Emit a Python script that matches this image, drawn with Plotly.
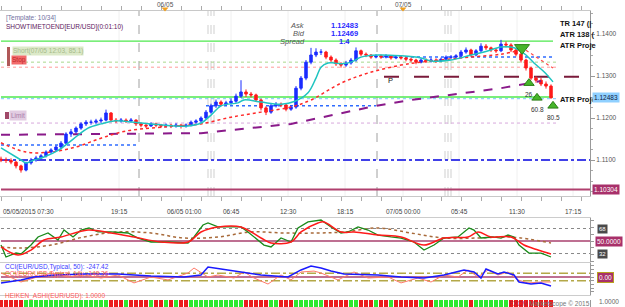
import plotly.graph_objects as go

W, H = 625, 307

# ---------------- data ----------------
# 30-minute bars, hours since 05/05/2015 07:30
closes = [1.1100,1.1099,1.1095,1.1086,1.1076,1.1093,1.1100,1.1105,1.1110,1.1119,
          1.1124,1.1131,1.1140,1.1162,1.1167,1.1176,1.1186,1.1190,1.1190,1.1193,
          1.1195,1.1212,1.1195,1.1193,1.1195,1.1193,1.1195,1.1186,1.1183,1.1181,
          1.1186,1.1183,1.1181,1.1183,1.1181,1.1183,1.1181,1.1183,1.1190,1.1193,
          1.1200,1.1214,1.1229,1.1238,1.1233,1.1236,1.1240,1.1252,1.1262,1.1257,
          1.1255,1.1243,1.1224,1.1214,1.1229,1.1233,1.1231,1.1221,1.1226,1.1271,
          1.1295,1.1333,1.1350,1.1357,1.1357,1.1345,1.1338,1.1329,1.1326,1.1331,
          1.1338,1.1360,1.1352,1.1350,1.1345,1.1348,1.1345,1.1348,1.1343,1.1345,
          1.1343,1.1340,1.1338,1.1333,1.1338,1.1336,1.1338,1.1336,1.1340,1.1345,
          1.1345,1.1348,1.1357,1.1362,1.1350,1.1360,1.1371,1.1367,1.1362,1.1360,
          1.1376,1.1374,1.1362,1.1352,1.1338,1.1319,1.1295,1.1290,1.1281,1.1276,
          1.12483]
highs = [1.1108,1.1106,1.1104,1.1098,1.1089,1.1096,1.1105,1.1110,1.1114,1.1123,
         1.1128,1.1135,1.1145,1.1166,1.1174,1.1180,1.1190,1.1195,1.1196,1.1198,
         1.1201,1.1220,1.1214,1.1200,1.1200,1.1199,1.1200,1.1197,1.1189,1.1187,
         1.1190,1.1189,1.1186,1.1187,1.1186,1.1188,1.1186,1.1187,1.1194,1.1197,
         1.1204,1.1219,1.1234,1.1244,1.1242,1.1241,1.1246,1.1258,1.1290,1.1268,
         1.1262,1.1258,1.1246,1.1228,1.1234,1.1238,1.1237,1.1234,1.1231,1.1276,
         1.1300,1.1338,1.1367,1.1366,1.1364,1.1360,1.1349,1.1342,1.1333,1.1336,
         1.1343,1.1368,1.1363,1.1356,1.1352,1.1352,1.1351,1.1352,1.1350,1.1349,
         1.1348,1.1346,1.1344,1.1341,1.1342,1.1342,1.1343,1.1342,1.1344,1.1349,
         1.1350,1.1352,1.1362,1.1368,1.1365,1.1364,1.1378,1.1376,1.1370,1.1366,
         1.1386,1.1382,1.1378,1.1366,1.1355,1.1341,1.1322,1.1300,1.1296,1.1287,
         1.1280]
lows = [1.1095,1.1093,1.1090,1.1080,1.1070,1.1073,1.1089,1.1096,1.1101,1.1106,
        1.1115,1.1120,1.1128,1.1138,1.1155,1.1160,1.1172,1.1181,1.1184,1.1185,
        1.1188,1.1192,1.1190,1.1188,1.1189,1.1188,1.1189,1.1181,1.1178,1.1176,
        1.1179,1.1178,1.1176,1.1177,1.1176,1.1177,1.1175,1.1177,1.1180,1.1186,
        1.1189,1.1196,1.1210,1.1224,1.1228,1.1229,1.1232,1.1236,1.1248,1.1250,
        1.1249,1.1238,1.1218,1.1207,1.1210,1.1225,1.1226,1.1216,1.1217,1.1222,
        1.1266,1.1290,1.1328,1.1345,1.1350,1.1340,1.1333,1.1324,1.1320,1.1322,
        1.1327,1.1334,1.1347,1.1345,1.1341,1.1342,1.1341,1.1342,1.1339,1.1340,
        1.1339,1.1335,1.1333,1.1328,1.1330,1.1331,1.1332,1.1331,1.1333,1.1337,
        1.1340,1.1341,1.1345,1.1353,1.1345,1.1347,1.1356,1.1362,1.1357,1.1355,
        1.1357,1.1368,1.1357,1.1347,1.1332,1.1313,1.1290,1.1284,1.1276,1.1270,
        1.1246]
first_open = 1.1102
opens = [first_open] + closes[:-1]
bar_h = [0.5 * i for i in range(len(closes))]

# moving averages (hours, price)
cyan_h = [0,2.0,2.5,3.3,4.3,5.8,6.7,7.7,8.7,10.0,11.3,13.3,15.0,17.3,18.7,20.0,21.0,22.0,23.7,24.3,
          26.0,28.0,29.4,30.7,31.5,32.0,32.7,33.3,34.0,35.0,36.0,37.7,40.0,42.0,43.0,45.0,47.0,48.3,
          50.0,51.0,51.8,52.5,53.3,54.3,55.2]
cyan_p = [1.1129,1.1100,1.1093,1.1100,1.1107,1.1124,1.1140,1.1159,1.1176,1.1186,1.1193,1.1190,1.1186,
          1.1181,1.1181,1.1188,1.1207,1.1229,1.1236,1.1243,1.1238,1.1233,1.1240,1.1260,1.1295,1.1321,
          1.1331,1.1331,1.1329,1.1333,1.1345,1.1350,1.1348,1.1343,1.1336,1.1338,1.1350,1.1357,1.1369,
          1.1369,1.1362,1.1350,1.1331,1.1310,1.1286]
red_h = [0,2.5,5.0,7.5,10.0,12.5,15.0,17.5,20.0,23.0,26.0,29.0,31.0,34.0,36.7,40.0,42.0,46.0,50.0,52.0]
red_p = [1.1141,1.1119,1.1119,1.1131,1.1152,1.1169,1.1176,1.1181,1.1186,1.1202,1.1214,1.1226,1.1243,
         1.1283,1.1307,1.1326,1.1333,1.1343,1.1352,1.1362]
proj_h = [52.0, 55.2]
proj_p = [1.1369, 1.1319]
purple_h = [0,10,20,29,37.5,41,45,50,54]
purple_p = [1.1160,1.1162,1.1164,1.1186,1.1229,1.1243,1.1255,1.1271,1.1288]

# signals
sig_dn_h = [52.1]
sig_dn_p = [1.1367]
sig_up_h = [52.8, 53.6, 55.2]
sig_up_p = [1.1283, 1.1248, 1.1229]
sig_up_txt = ["26", "60.8", "80.5"]

# oscillator
stk_h = [0,0.5,1.5,2.0,3.0,3.7,4.7,5.7,6.3,7.2,8.0,8.8,9.7,11.0,12.7,13.7,15.0,16.7,18.7,19.3,
         20.2,20.7,21.7,23.0,24.0,24.7,25.3,26.3,27.0,28.0,29.0,29.7,30.7,31.7,32.0,33.0,34.0,34.7,
         35.7,36.7,37.7,39.0,40.0,41.3,42.3,43.3,44.3,45.7,46.8,47.3,48.0,49.2,50.0,50.7,51.3,51.8,
         52.8,54.0,55.0]
stk_v = [44.2,27.0,32.7,31.3,44.2,55.8,61.5,51.4,65.8,55.8,65.8,68.7,63.0,63.0,61.5,54.3,48.6,48.6,
         47.1,55.8,73.0,75.9,70.2,70.2,70.2,63.0,55.8,44.2,41.4,54.3,48.6,68.7,77.4,80.2,80.2,70.2,
         61.5,63.0,70.2,65.8,58.6,55.8,54.3,48.6,37.0,44.2,54.3,55.8,68.7,65.8,54.3,55.8,54.3,58.6,
         55.8,44.2,32.7,32.7,27.0]
std_h = [0,1.7,3.0,4.3,6.0,8.7,11.0,13.3,16.0,18.7,20.0,21.7,24.0,26.0,27.0,29.0,30.0,31.7,32.3,
         34.0,35.3,37.7,40.0,42.3,44.3,46.7,47.7,49.0,51.0,52.3,53.7,55.0]
std_v = [41.4,29.8,37.0,51.4,55.8,65.8,61.5,55.8,48.6,48.6,63.0,70.2,70.2,54.3,47.1,48.6,63.0,75.9,
         77.4,63.0,63.0,58.6,55.8,44.2,54.3,55.8,63.0,55.8,55.8,44.2,37.0,31.3]
slow_h = [0,2.0,5.0,8.3,11.7,15.0,18.3,21.7,25.0,28.3,31.7,34.3,37.7,41.0,44.3,47.7,51.0,55.0]
slow_v = [41.4,39.9,44.2,55.8,63.0,61.5,54.3,55.8,63.0,61.5,61.5,63.0,68.7,61.5,54.3,54.3,55.8,47.1]

# CCI
cci50_h = [0,2.0,3.3,5.0,8.3,11.7,15.0,18.3,20.0,20.7,22.0,24.0,26.0,28.7,30.0,31.0,32.0,33.0,34.3,
           37.7,40.0,42.3,44.3,46.3,47.3,48.0,48.5,49.7,50.3,51.3,51.8,53.0,54.0,55.0]
cci50_v = [-160,-80,0,50,80,80,27,0,54,270,216,135,54,0,190,297,243,160,80,54,0,-27,54,190,135,-27,
           216,80,135,54,-135,-190,-160,-243]
cci14_h = [0,2.0,3.3,5.0,6.7,8.3,10.0,11.7,13.3,15.0,16.7,18.7,19.3,20.7,21.7,23.3,24.3,25.3,26.7,
           28.0,29.0,30.0,31.3,32.0,33.7,35.3,36.7,38.7,40.0,41.7,43.0,44.3,45.7,46.7,47.7,48.7,49.7,
           50.7,51.7,52.7,54.0,55.0]
cci14_v = [108,-135,-27,108,0,54,-27,54,-160,0,-80,108,243,0,54,-27,135,-27,-190,54,-80,135,160,108,
           -80,135,-27,0,-160,-27,-135,54,0,190,0,190,54,135,-80,-160,-135,-135]

# Heiken Ashi direction per bar (G up / R down)
ha_dir = "".join(["RRRRR", "GGGGGGGGGGGGGGGG", "GR", "RRGRRRRGRRGRGRR", "GGGGGGGGGGG", "RRRRR",
                  "GGRRR", "GGGGGG", "RRRRR", "GGR", "RRGRRGRRRRRGRRG", "GGGGGGRGGGGGGG", "RRRRRRRRR"])

price_ticks = [1.11, 1.12, 1.13, 1.14]
price_ticktext = ["1.1100", "1.1200", "1.1300", "1.1400"]
time_labels = ["05/05/2015 07:30", "19:15", "06/05 01:00", "06:45", "12:30", "18:15",
               "07/05 00:00", "05:45", "11:30", "17:15"]
time_hours = [0, 11.8, 18.3, 23.0, 28.7, 34.4, 40.2, 45.8, 51.6, 57.2]
day_labels = ["06/05", "07/05"]
day_hours = [16.4, 40.2]

last_price = 1.12483
low_mark = 1.10304

# ---------------- layout helpers ----------------
def px(x):
    return x / W

def py(y):
    return 1 - y / H

FONT = "Liberation Sans"
XR = [-0.1, 58.9]
annotations = []
shapes = []

def ann(x, y, text, size=7, color="#333", xanchor="left", xref="paper", yref="paper", **kw):
    d = dict(x=x if xref != "paper" else px(x), y=y if yref != "paper" else py(y),
             xref=xref, yref=yref, text=text, showarrow=False, xanchor=xanchor,
             yanchor="middle", font=dict(size=size, color=color, family=FONT))
    d.update(kw)
    annotations.append(d)

def hline(p, h0, h1, color, dash="solid", width=1, yref="y", xref="x"):
    shapes.append(dict(type="line", xref=xref, yref=yref, x0=h0, x1=h1, y0=p, y1=p,
                       line=dict(color=color, dash=dash, width=width), layer="below"))

fig = go.Figure()

# ---------------- main panel ----------------
fig.add_trace(go.Candlestick(
    x=bar_h, open=opens, high=highs, low=lows, close=closes, xaxis="x", yaxis="y",
    increasing=dict(line=dict(color="#1a2cff", width=1), fillcolor="#1a2cff"),
    decreasing=dict(line=dict(color="#ff1a1a", width=1), fillcolor="#ff1a1a"),
    whiskerwidth=0, showlegend=False, hoverinfo="skip"))
fig.add_trace(go.Scatter(x=purple_h, y=purple_p, mode="lines", xaxis="x", yaxis="y",
                         line=dict(color="#8a1a8a", width=2, dash="dash"), showlegend=False))
fig.add_trace(go.Scatter(x=red_h, y=red_p, mode="lines", xaxis="x", yaxis="y",
                         line=dict(color="#ff2a2a", width=1.5, dash="dot", shape="spline"), showlegend=False))
fig.add_trace(go.Scatter(x=proj_h, y=proj_p, mode="lines", xaxis="x", yaxis="y",
                         line=dict(color="#ff4a4a", width=1.2, dash="dot"), showlegend=False))
fig.add_trace(go.Scatter(x=cyan_h, y=cyan_p, mode="lines", xaxis="x", yaxis="y",
                         line=dict(color="#1fc4c0", width=1.5, shape="spline"), showlegend=False))
fig.add_trace(go.Scatter(x=sig_dn_h, y=sig_dn_p, mode="markers", xaxis="x", yaxis="y",
                         marker=dict(symbol="triangle-down", size=13, color="#46b52a",
                                     line=dict(color="#2c7f16", width=1)), showlegend=False))
fig.add_trace(go.Scatter(x=sig_up_h, y=sig_up_p, mode="markers", xaxis="x", yaxis="y",
                         marker=dict(symbol="triangle-up", size=9, color="#46b52a",
                                     line=dict(color="#2c7f16", width=1)), showlegend=False))
for hv, pv, tv in zip(sig_up_h, sig_up_p, sig_up_txt):
    annotations.append(dict(x=hv, y=pv, xref="x", yref="y", text=tv, showarrow=False,
                            xanchor="center", yanchor="top", yshift=-6,
                            font=dict(size=6.5, color="#333", family=FONT)))

# level lines
hline(1.1383, 0, 55.2, "#4ee84e", width=1.3)
hline(1.1250, 0, 55.2, "#4ee84e", width=1.3)
hline(1.1333, 0, 55.7, "#a8d88c", dash="dot", width=1)
hline(1.1321, 0, 55.7, "#ff9a9a", dash="dot", width=1)
hline(1.1246, 0, 55.7, "#7cc4ff", dash="dot", width=1)
hline(1.1136, 0, 13.5, "#2f6cff", dash="dot", width=1.5)
hline(1.1229, 20.5, 37.5, "#2f6cff", dash="dot", width=1.5)
hline(1.1345, 38.0, 55.2, "#2f6cff", dash="dot", width=1.5)
hline(1.1100, 0, XR[1], "#4040e8", dash="dashdot", width=2)
hline(1.1188, 0, 55.5, "#d8a8dc", dash="dot", width=1)
hline(1.1030, 0, XR[1], "#b0406e", width=2)
hline(1.1298, 38.3, XR[1], "#7a1a3a", dash="longdash", width=2)

# vertical markers
for hv in [13.8, 37.6]:
    shapes.append(dict(type="line", xref="x", yref="paper", x0=hv, x1=hv, y0=py(196), y1=py(11),
                       line=dict(color="#a0a0a0", dash="dash", width=1), layer="below"))
for hv in [20.7, 21.0, 21.3, 44.4, 44.7, 45.0]:
    shapes.append(dict(type="line", xref="x", yref="paper", x0=hv, x1=hv, y0=py(196), y1=py(11),
                       line=dict(color="#cfcfcf", dash="dash", width=1), layer="below"))
for hv in time_hours[1:]:
    shapes.append(dict(type="line", xref="x", yref="paper", x0=hv, x1=hv, y0=py(196), y1=py(11),
                       line=dict(color="#f0f0f0", width=1), layer="below"))

# order boxes
shapes.append(dict(type="rect", xref="paper", yref="paper", x0=px(7), x1=px(10), y0=py(66), y1=py(47),
                   fillcolor="#b05858", line=dict(width=0)))
shapes.append(dict(type="rect", xref="paper", yref="paper", x0=px(5), x1=px(9), y0=py(119), y1=py(112),
                   fillcolor="#a04868", line=dict(width=0)))
ann(12, 51.5, "Short(07/05 12:03, 85.1)", 6.5, "#a6ba8a", bgcolor="#dce9c8", borderpad=0)
ann(11, 60.5, "Stop", 6.5, "#c02828", bgcolor="#f26a6a", borderpad=0)
ann(9, 115.5, "Limit", 6.5, "#a87ca8", bgcolor="#e2cce2", borderpad=1)

# header texts
ann(4, 18, "[Template: 10/34]", 6.5, "#7070a0")
ann(4, 26.5, "SHOWTIMETOEND[EUR/USD](0:01:10)", 6.5, "#602060")
ann(307, 25, "<i>Ask</i>", 7.5, "#555", "right")
ann(307, 33, "<i>Bid</i>", 7.5, "#555", "right")
ann(307, 41, "<i>Spread</i>", 7.5, "#555", "right")
ann(344, 25, "<b>1.12483</b>", 7.5, "#2a2aff", "center")
ann(344, 33, "<b>1.12469</b>", 7.5, "#2a2aff", "center")
ann(344, 41, "<b>1.4</b>", 7.5, "#2a2aff", "center")
ann(558, 23, "<b>TR 147 (|</b>", 7.5, "#111")
ann(558, 34, "<b>ATR 138 (</b>", 7.5, "#111")
ann(558, 45, "<b>ATR Proje</b>", 7.5, "#111")
ann(558, 100, "<b>ATR Proje</b>", 7.5, "#111")
ann(38.5, 1.1290, "P", 7.5, "#111", xref="x", yref="y")

# day markers on top
for lbl, hv in zip(day_labels, day_hours):
    ann(hv, 4, lbl, 6.5, "#555", "center", xref="x")
    shapes.append(dict(type="path", xref="x", yref="paper",
                       path=f"M {hv - 0.35} {py(7.5)} L {hv + 0.35} {py(7.5)} L {hv} {py(11.5)} Z",
                       fillcolor="#f0a020", line=dict(width=0)))

# price boxes on right
ann(592, last_price, "1.12483", 6.5, "#102040", yref="y", bgcolor="#8fd0ff", borderpad=1)
ann(592, low_mark, "1.10304", 6.5, "#ffffff", yref="y", bgcolor="#a8306a", borderpad=1)

# time labels
for i, (lbl, hv) in enumerate(zip(time_labels, time_hours)):
    ann(hv, 211, lbl, 6.5, "#444", "left" if i == 0 else "center", xref="x")

# ---------------- oscillator panel ----------------
fig.add_trace(go.Scatter(x=slow_h, y=slow_v, mode="lines", xaxis="x2", yaxis="y2",
                         line=dict(color="#a86a3a", width=1.5, dash="dot", shape="spline"), showlegend=False))
fig.add_trace(go.Scatter(x=stk_h, y=stk_v, mode="lines", xaxis="x2", yaxis="y2",
                         line=dict(color="#1a8a1a", width=1.3), showlegend=False))
fig.add_trace(go.Scatter(x=std_h, y=std_v, mode="lines", xaxis="x2", yaxis="y2",
                         line=dict(color="#ff1a1a", width=1.5, shape="spline"), showlegend=False))
hline(68, 0, XR[1], "#888", dash="dot", width=1, yref="y2", xref="x2")
hline(32, 0, XR[1], "#888", dash="dot", width=1, yref="y2", xref="x2")
hline(50, 0, XR[1], "#a8406e", width=1.5, yref="y2", xref="x2")
ann(597, 68, "68", 6, "#fff", yref="y2", bgcolor="#4a4a4a", borderpad=1)
ann(597, 32, "32", 6, "#fff", yref="y2", bgcolor="#4a4a4a", borderpad=1)
ann(595, 50, "50.0000", 6.5, "#fff", yref="y2", bgcolor="#a8306a", borderpad=1)

# ---------------- CCI panel ----------------
hline(100, 0, XR[1], "#b4a848", dash="dashdot", width=1.5, yref="y3", xref="x3")
hline(-100, 0, XR[1], "#b4a848", dash="dashdot", width=1.5, yref="y3", xref="x3")
hline(0, 0, XR[1], "#a8406e", width=1.5, yref="y3", xref="x3")
fig.add_trace(go.Scatter(x=cci14_h, y=cci14_v, mode="lines", xaxis="x3", yaxis="y3",
                         line=dict(color="#ff7a6a", width=1), showlegend=False))
fig.add_trace(go.Scatter(x=cci50_h, y=cci50_v, mode="lines", xaxis="x3", yaxis="y3",
                         line=dict(color="#1a1aff", width=1.5), showlegend=False))
ann(3, 266.5, "CCI(EUR/USD,Typical, 50): -247.42", 6.5, "#3a3aff")
ann(3, 273.5, "CCI(EUR/USD,Typical, 14): -148.36", 6.5, "#ff5a5a")
ann(597, 0, "0.00", 6.5, "#fff", yref="y3", bgcolor="#a8306a", bordercolor="#b8a020",
    borderwidth=1, borderpad=1)

# ---------------- Heiken Ashi strip ----------------
ha_colors = ["#2ee82e" if d == "G" else "#ec1c1c" for d in ha_dir]
fig.add_trace(go.Bar(x=bar_h[:len(ha_colors)], y=[1] * len(ha_colors), xaxis="x4", yaxis="y4",
                     marker=dict(color=ha_colors, line=dict(width=0)), width=0.36,
                     showlegend=False, hoverinfo="skip"))
ann(3, 296, "HEIKEN_ASHI(EUR/USD): 1.0000", 6.5, "#ff5a5a")
ann(592, 303.5, "<span style='color:#b02040'>FXCM</span> Marketscope © 2015", 6.5, "#777", "right")
ann(597, 301, "1.0000", 6.5, "#666")

# ---------------- axes ----------------
XD = [0, px(590)]
common_x = dict(range=XR, domain=XD, showgrid=False, zeroline=False, fixedrange=True)

fig.update_layout(
    width=W, height=H, margin=dict(l=0, r=0, t=0, b=0),
    paper_bgcolor="white", plot_bgcolor="white", showlegend=False,
    font=dict(family=FONT, size=7, color="#444"),
    bargap=0,
    xaxis=dict(**common_x, anchor="y", showline=True, linecolor="#c8c8c8", mirror="ticks",
               ticks="outside", ticklen=4, tickcolor="#aaa", dtick=2, tick0=0,
               showticklabels=False, rangeslider=dict(visible=False)),
    yaxis=dict(domain=[py(196), py(11)], range=[1.10143, 1.14548], side="right", anchor="x",
               showline=True, linecolor="#999", ticks="outside", ticklen=4, tickcolor="#999",
               tickvals=price_ticks, ticktext=price_ticktext,
               tickfont=dict(size=6.5, color="#555", family=FONT),
               minor=dict(ticks="outside", ticklen=2, dtick=0.0025, tickcolor="#aaa"),
               showgrid=False, zeroline=False),
    xaxis2=dict(**common_x, anchor="y2", matches="x", showline=True, mirror=True,
                linecolor="#cccccc", ticks="", showticklabels=False),
    yaxis2=dict(domain=[py(262), py(218)], range=[19.8, 83.1], side="right", anchor="x2",
                showline=True, linecolor="#999", ticks="outside", ticklen=3, tickcolor="#999",
                dtick=10, showticklabels=False, showgrid=False, zeroline=False),
    xaxis3=dict(**common_x, anchor="y3", matches="x", showline=True, mirror=True,
                linecolor="#cccccc", ticks="", showticklabels=False),
    yaxis3=dict(domain=[py(295), py(263)], range=[-486, 378], side="right", anchor="x3",
                showline=True, linecolor="#999", ticks="outside", ticklen=3, tickcolor="#999",
                dtick=100, showticklabels=False, showgrid=False, zeroline=False),
    xaxis4=dict(**common_x, anchor="y4", matches="x", showline=False, ticks="",
                showticklabels=False),
    yaxis4=dict(domain=[0, py(299.5)], range=[0, 1], side="right", anchor="x4", showline=True,
                linecolor="#999", showticklabels=False, showgrid=False, zeroline=False),
    annotations=annotations,
    shapes=shapes,
)

fig.write_html("out.html")
